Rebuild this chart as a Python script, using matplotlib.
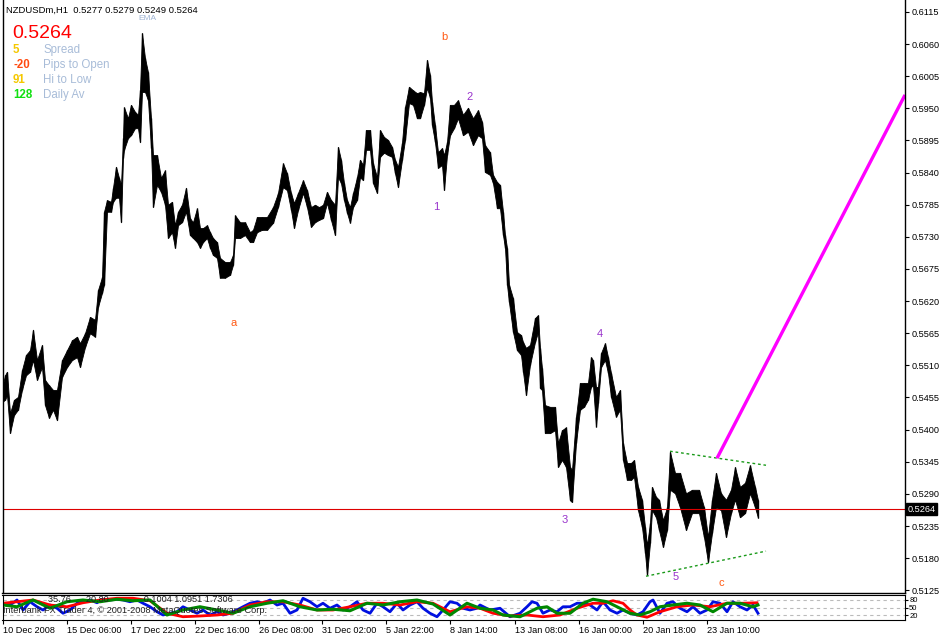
import numpy as np
import matplotlib
matplotlib.use("Agg")
import matplotlib.pyplot as plt
from matplotlib.transforms import blended_transform_factory

W, H = 943, 636
plt.rcParams.update({"font.family": ["Liberation Sans", "DejaVu Sans"], "font.size": 6.6})

# NZDUSD H1, bar number vs high/low in pips (1e-4)
bar_x = [2, 5, 7, 10, 14, 18, 22, 26, 30, 33, 37, 42, 45, 49, 53, 57, 62, 67, 72, 77,
         80, 85, 90, 95, 98, 102, 104, 107, 111, 113, 116, 119, 121, 123, 124, 128, 131, 135, 138, 140,
         142, 145, 148, 151, 153, 157, 161, 165, 168, 172, 175, 178, 182, 186, 190, 193, 197, 200, 203, 207,
         210, 213, 217, 220, 225, 230, 233, 235, 240, 245, 250, 253, 257, 262, 267, 273, 278, 283, 287, 291,
         294, 298, 303, 307, 311, 315, 319, 323, 327, 331, 335, 338, 341, 344, 347, 350, 353, 357, 360, 363,
         366, 370, 373, 377, 380, 384, 388, 392, 395, 398, 402, 405, 409, 413, 417, 420, 424, 427, 430, 432,
         435, 438, 442, 444, 447, 450, 454, 458, 463, 468, 473, 478, 482, 485, 490, 493, 497, 500, 503, 505,
         507, 509, 513, 517, 521, 523, 526, 530, 535, 538, 540, 542, 545, 550, 555, 558, 562, 566, 570, 572,
         576, 580, 584, 588, 591, 593, 596, 598, 601, 605, 608, 611, 616, 620, 623, 627, 631, 634, 638, 642,
         645, 647, 650, 652, 656, 659, 663, 667, 670, 675, 680, 686, 692, 699, 704, 708, 712, 716, 721, 726,
         731, 735, 740, 745, 750, 755, 758]
bar_hi = [5471, 5493, 5499, 5428, 5451, 5456, 5502, 5528, 5536, 5571,
          5519, 5545, 5485, 5476, 5468, 5468, 5519, 5536, 5553, 5559,
          5548, 5565, 5593, 5588, 5639, 5661, 5773, 5793, 5790, 5814,
          5850, 5831, 5819, 5899, 5952, 5933, 5956, 5944, 5939, 5981,
          6079, 6036, 6012, 5933, 5870, 5870, 5831, 5844, 5785, 5790,
          5750, 5773, 5785, 5814, 5762, 5755, 5779, 5745, 5745, 5750,
          5738, 5728, 5721, 5694, 5687, 5687, 5699, 5767, 5755, 5755,
          5738, 5742, 5764, 5764, 5764, 5781, 5805, 5856, 5839, 5805,
          5788, 5805, 5827, 5810, 5781, 5785, 5781, 5785, 5807, 5793,
          5785, 5884, 5862, 5822, 5793, 5781, 5805, 5832, 5862, 5853,
          5913, 5913, 5856, 5832, 5913, 5901, 5896, 5884, 5862, 5850,
          5891, 5952, 5987, 5981, 5976, 5978, 5976, 6033, 6007, 5961,
          5921, 5875, 5882, 5870, 5892, 5956, 5956, 5964, 5939, 5951,
          5933, 5947, 5927, 5887, 5875, 5836, 5824, 5819, 5773, 5733,
          5711, 5648, 5625, 5567, 5562, 5550, 5540, 5545, 5591, 5596,
          5540, 5505, 5442, 5439, 5439, 5377, 5399, 5404, 5336, 5331,
          5422, 5480, 5480, 5480, 5524, 5519, 5473, 5473, 5531, 5548,
          5524, 5497, 5456, 5468, 5377, 5343, 5343, 5348, 5302, 5280,
          5233, 5202, 5240, 5302, 5285, 5280, 5245, 5267, 5362, 5326,
          5326, 5291, 5297, 5297, 5267, 5216, 5280, 5326, 5291, 5280,
          5297, 5336, 5302, 5309, 5339, 5302, 5279]
bar_lo = [5447, 5451, 5459, 5394, 5425, 5434, 5468, 5493, 5499, 5519,
          5485, 5507, 5442, 5420, 5434, 5416, 5490, 5507, 5519, 5524,
          5507, 5541, 5565, 5559, 5610, 5634, 5648, 5773, 5773, 5790,
          5797, 5797, 5755, 5865, 5879, 5899, 5904, 5916, 5916, 5892,
          5978, 5978, 5964, 5882, 5781, 5819, 5807, 5785, 5728, 5738,
          5711, 5750, 5755, 5773, 5733, 5728, 5721, 5711, 5721, 5728,
          5711, 5699, 5694, 5660, 5660, 5665, 5682, 5728, 5728, 5733,
          5721, 5721, 5738, 5742, 5742, 5754, 5781, 5815, 5810, 5776,
          5745, 5776, 5805, 5781, 5747, 5755, 5759, 5762, 5788, 5759,
          5733, 5832, 5822, 5793, 5771, 5754, 5781, 5793, 5832, 5827,
          5879, 5879, 5822, 5805, 5867, 5874, 5870, 5867, 5839, 5815,
          5862, 5896, 5959, 5956, 5933, 5933, 5956, 5985, 5968, 5921,
          5892, 5848, 5853, 5810, 5870, 5904, 5916, 5933, 5904, 5910,
          5887, 5904, 5899, 5841, 5836, 5822, 5779, 5779, 5733, 5711,
          5648, 5618, 5567, 5536, 5528, 5499, 5459, 5511, 5550, 5567,
          5471, 5468, 5394, 5394, 5399, 5336, 5348, 5336, 5279, 5276,
          5377, 5434, 5439, 5451, 5473, 5476, 5405, 5446, 5507, 5519,
          5497, 5456, 5422, 5434, 5348, 5314, 5314, 5319, 5262, 5233,
          5189, 5151, 5206, 5262, 5250, 5228, 5199, 5228, 5297, 5291,
          5267, 5228, 5257, 5257, 5216, 5173, 5223, 5267, 5262, 5216,
          5257, 5280, 5250, 5257, 5291, 5267, 5249]

last_price = 0.5264
header = "NZDUSDm,H1  0.5277 0.5279 0.5249 0.5264"

# lower oscillator panel (0..100)
blue_x = [3, 10, 17, 23, 30, 37, 43, 50, 57, 63, 70, 77, 83, 90, 97, 103, 110, 117, 123, 130,
          137, 143, 150, 157, 163, 170, 177, 183, 190, 197, 203, 210, 217, 223, 230, 237, 243, 250, 257, 263,
          270, 277, 283, 290, 297, 303, 310, 317, 323, 330, 337, 343, 350, 357, 363, 370, 377, 383, 390, 397,
          403, 410, 417, 423, 430, 437, 443, 450, 457, 463, 470, 477, 480, 490, 500, 510, 520, 527, 532, 537,
          543, 550, 557, 563, 570, 577, 583, 590, 597, 603, 610, 617, 623, 630, 637, 643, 650, 653, 660, 667,
          673, 680, 687, 693, 700, 707, 713, 720, 727, 733, 740, 747, 753, 758]
blue_v = [67, 60, 80, 40, 73, 53, 40, 60, 47, 27, 40, 67, 73, 80, 69, 83, 80, 83, 80, 73,
          80, 67, 53, 33, 20, 27, 33, 53, 40, 27, 40, 20, 33, 20, 27, 40, 53, 67, 73, 67,
          80, 60, 67, 27, 40, 87, 73, 53, 67, 47, 60, 40, 53, 73, 40, 27, 67, 53, 33, 67,
          40, 60, 73, 47, 27, 13, 40, 73, 67, 47, 40, 47, 60, 40, 47, 13, 27, 53, 73, 67,
          27, 40, 33, 53, 53, 67, 67, 60, 40, 73, 40, 27, 40, 27, 20, 33, 73, 80, 27, 67,
          73, 47, 33, 53, 27, 40, 73, 67, 33, 73, 53, 40, 60, 27]
red_x = [3, 17, 33, 50, 67, 83, 100, 117, 133, 150, 167, 183, 200, 217, 233, 250, 267, 283, 300, 317,
         333, 350, 367, 383, 400, 417, 433, 450, 467, 480, 493, 510, 527, 543, 560, 577, 593, 603, 613, 623,
         630, 637, 647, 660, 677, 693, 710, 727, 743, 757]
red_v = [67, 73, 80, 60, 53, 69, 80, 87, 87, 77, 27, 13, 16, 20, 27, 60, 73, 73, 60, 40,
         40, 53, 67, 67, 60, 73, 67, 33, 53, 47, 27, 16, 20, 13, 20, 47, 67, 67, 77, 67,
         40, 20, 11, 33, 53, 60, 53, 67, 67, 69]
green_x = [3, 17, 33, 50, 67, 83, 100, 117, 133, 150, 167, 183, 200, 217, 233, 250, 267, 283, 300, 317,
           333, 350, 367, 383, 400, 417, 433, 450, 467, 480, 493, 503, 520, 537, 547, 557, 570, 583, 593, 607,
           617, 630, 640, 650, 660, 673, 687, 700, 713, 727, 740, 753, 758]
green_v = [60, 53, 80, 47, 73, 80, 73, 83, 77, 80, 20, 40, 53, 40, 27, 53, 67, 77, 53, 40,
           43, 37, 67, 60, 73, 80, 64, 20, 67, 47, 40, 20, 13, 47, 53, 27, 27, 67, 83, 73,
           53, 27, 20, 33, 53, 60, 67, 60, 33, 67, 67, 53, 60]

date_pos = [3, 67, 131, 195, 259, 322, 386, 450, 515, 579, 643, 707]
date_lbl = ["10 Dec 2008", "15 Dec 06:00", "17 Dec 22:00", "22 Dec 16:00", "26 Dec 08:00",
            "31 Dec 02:00", "5 Jan 22:00", "8 Jan 14:00", "13 Jan 08:00", "16 Jan 00:00",
            "20 Jan 18:00", "23 Jan 10:00"]

ORANGE = "#ff5a14"; PURPLE = "#9933cc"
waves = [("b", 444, 0.6072, ORANGE), ("a", 234, 0.5582, ORANGE), ("c", 721, 0.5137, ORANGE),
         ("1", 436, 0.5781, PURPLE), ("2", 470, 0.5969, PURPLE), ("3", 565, 0.5245, PURPLE),
         ("4", 600, 0.5564, PURPLE), ("5", 676, 0.5148, PURPLE)]
tri_upper = ([670, 766], [0.5363, 0.5339])
tri_lower = ([646, 766], [0.5149, 0.5192])
trend = ([717, 905], [0.5351, 0.5973])

info = [("5", "#f5c800", "Spread"), ("-20", "#ff4a10", "Pips to Open"),
        ("91", "#f5c800", "Hi to Low"), ("128", "#10e010", "Daily Av")]

fig = plt.figure(figsize=(W / 100, H / 100), dpi=100)
fig.patch.set_facecolor("white")

def fx(x): return x / W
def fy(y): return 1 - y / H

# ---- main price panel
ax = fig.add_axes([fx(2.5), fy(593), fx(905) - fx(2.5), fy(0) - fy(593)])
hi = np.array(bar_hi) / 1e4
lo = np.array(bar_lo) / 1e4
ax.fill_between(bar_x, lo, hi, color="black", lw=0.6)
ax.vlines(bar_x, lo, hi, color="black", lw=1.0)
ax.axhline(last_price, color="#dd0000", lw=0.8)
ax.plot(*tri_upper, color="#1a9a1a", lw=1.0, ls=(0, (2, 2)))
ax.plot(*tri_lower, color="#1a9a1a", lw=1.0, ls=(0, (2, 2)))
ax.plot(*trend, color="#ff00ff", lw=2.4, solid_capstyle="butt")
for t, x, y, c in waves:
    ax.text(x, y, t, color=c, fontsize=8, ha="center", va="center")

ax.set_xlim(2.5, 905)
ax.set_ylim(0.51203, 0.61355)
ticks = [round(0.6115 - 0.0055 * k, 4) for k in range(19)]
ax.yaxis.tick_right()
ax.set_yticks(ticks)
ax.set_yticklabels([f"{t:.4f}" for t in ticks])
ax.tick_params(axis="y", length=3, width=0.8, pad=2, labelsize=6.6, direction="out")
ax.set_xticks([])
ax.spines["top"].set_visible(False)
for s in ("left", "right", "bottom"):
    ax.spines[s].set_linewidth(1.0)
tr = blended_transform_factory(ax.transAxes, ax.transData)
ax.text(1.003, last_price, f"{last_price:.4f}", transform=tr, color="white", fontsize=6.6,
        ha="left", va="center", bbox=dict(boxstyle="square,pad=0.15", fc="black", ec="black"))

# ---- header / info block
fig.text(fx(6), fy(10), header, fontsize=6.8, color="black", va="center")
fig.text(fx(138), fy(19), "EMA", fontsize=6, color="#9fb4d4", va="center")
fig.text(fx(12), fy(34), f"{last_price:.4f}", fontsize=14, color="#ff0000", va="center")
for i, (num, col, lab) in enumerate(info):
    y = 50 + 15 * i
    fig.text(fx(13), fy(y), num, fontsize=8.3, color=col, va="center", weight="bold")
    fig.text(fx(43), fy(y), lab, fontsize=8.3, color="#a8bcd8", va="center")

# ---- oscillator panel
ax2 = fig.add_axes([fx(2.5), fy(620), fx(905) - fx(2.5), fy(595) - fy(620)])
for lvl in (80, 50, 20):
    ax2.axhline(lvl, color="#bbbbbb", lw=0.8, ls=(0, (3, 3)))
ax2.plot(blue_x, blue_v, color="#0010e0", lw=2.0)
ax2.plot(red_x, red_v, color="#ff0000", lw=2.0)
ax2.plot(green_x, green_v, color="#008800", lw=2.2)
ax2.text(48, 80, "35.76      20.80              0.1004 1.0951 1.7306", fontsize=6.6, color="#202020",
         va="center")
ax2.text(3, 38, "Interbank FX Trader 4, \u00a9 2001-2008 MetaQuotes Software Corp.", fontsize=6.6,
         color="#202020", va="center")
ax2.set_xlim(2.5, 905)
ax2.set_ylim(0, 100)
ax2.yaxis.tick_right()
ax2.set_yticks([80, 50, 20])
ax2.set_yticklabels(["80", "50", "20"])
ax2.tick_params(axis="y", length=2, pad=1, labelsize=5.5)
ax2.set_xticks(date_pos)
ax2.set_xticklabels(date_lbl)
ax2.tick_params(axis="x", length=3, width=0.8, pad=1, labelsize=6.6)
for lab in ax2.get_xticklabels():
    lab.set_ha("left")

fig.savefig("out.png", dpi=100, facecolor="white")
